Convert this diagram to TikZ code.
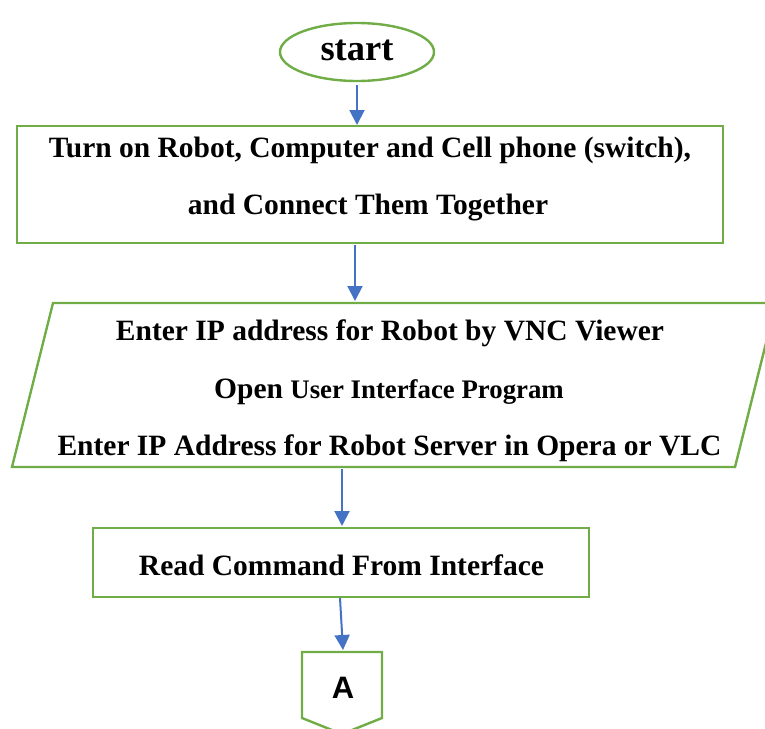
\documentclass[tikz,border=0pt]{standalone}
\usepackage{fontspec}
\setmainfont{Liberation Serif}
\newfontfamily\arialf{Liberation Sans}
\usetikzlibrary{arrows.meta,shapes.geometric}
\definecolor{boxgreen}{HTML}{70AD47}
\definecolor{arrblue}{HTML}{4472C4}
\tikzset{
  shapeline/.style={draw=boxgreen,line width=2.4pt,line join=miter},
  flowarrow/.style={draw=arrblue,line width=2pt,-{Triangle[width=15pt,length=15pt]}},
  txt/.style={anchor=base,inner sep=0pt,font=\fontsize{29.5}{29.5}\selectfont\bfseries},
  boxnode/.style={shapeline,rectangle,inner sep=0pt}
}
\begin{document}
\begin{tikzpicture}[x=1pt,y=-1pt]
\useasboundingbox (0,0) rectangle (765,728);
\clip (0,0) rectangle (765,728);
% start
\node[shapeline,ellipse,minimum width=154pt,minimum height=58pt,inner sep=0pt] (start) at (357,52) {};
\node[txt,font=\fontsize{36.5}{36.5}\selectfont\bfseries] (starttxt) at (357,60) {start};
% box 1
\node[boxnode,minimum width=706pt,minimum height=117pt] (box1) at (370,184.5) {};
\node[txt] (l1) at (370,157) {Turn on Robot, Computer and Cell phone (switch),};
\node[txt] (l2) at (368,214) {and Connect Them Together};
% parallelogram
\coordinate (ptl) at (53,303);
\coordinate (ptr) at (776,303);
\coordinate (pbr) at (735,467);
\coordinate (pbl) at (12,467);
\draw[shapeline] (ptl) -- (ptr) -- (pbr) -- (pbl) -- cycle;
\node[txt] (p1) at (390,340) {Enter IP address for Robot by VNC Viewer};
\node[txt] (p2) at (389,398) {Open {\fontsize{26.8}{26.8}\selectfont User Interface Program}};
\node[txt] (p3) at (389.5,455) {Enter IP Address for Robot Server in Opera or VLC};
% box 2
\node[boxnode,minimum width=496pt,minimum height=69pt] (box2) at (341,562.5) {};
\node[txt] (r1) at (341.5,575) {Read Command From Interface};
% off-page connector
\coordinate (ca) at (302,652);
\coordinate (cb) at (382,652);
\coordinate (cc) at (382,718);
\coordinate (cd) at (342,734);
\coordinate (ce) at (302,718);
\draw[shapeline] (ca) -- (cb) -- (cc) -- (cd) -- (ce) -- cycle;
\node[inner sep=0pt,font=\arialf\fontsize{31}{31}\selectfont\bfseries] (conA) at (343,688) {A};
% arrows
\coordinate (a1s) at (357,85);
\coordinate (a1e) at (357,125);
\coordinate (a2s) at (355,245);
\coordinate (a2e) at (355,301);
\coordinate (a3s) at (342,469);
\coordinate (a3e) at (342,526);
\coordinate (a4s) at (340,598);
\coordinate (a4e) at (343,650);
\draw[flowarrow] (a1s) -- (a1e);
\draw[flowarrow] (a2s) -- (a2e);
\draw[flowarrow] (a3s) -- (a3e);
\draw[flowarrow] (a4s) -- (a4e);
\end{tikzpicture}
\end{document}
